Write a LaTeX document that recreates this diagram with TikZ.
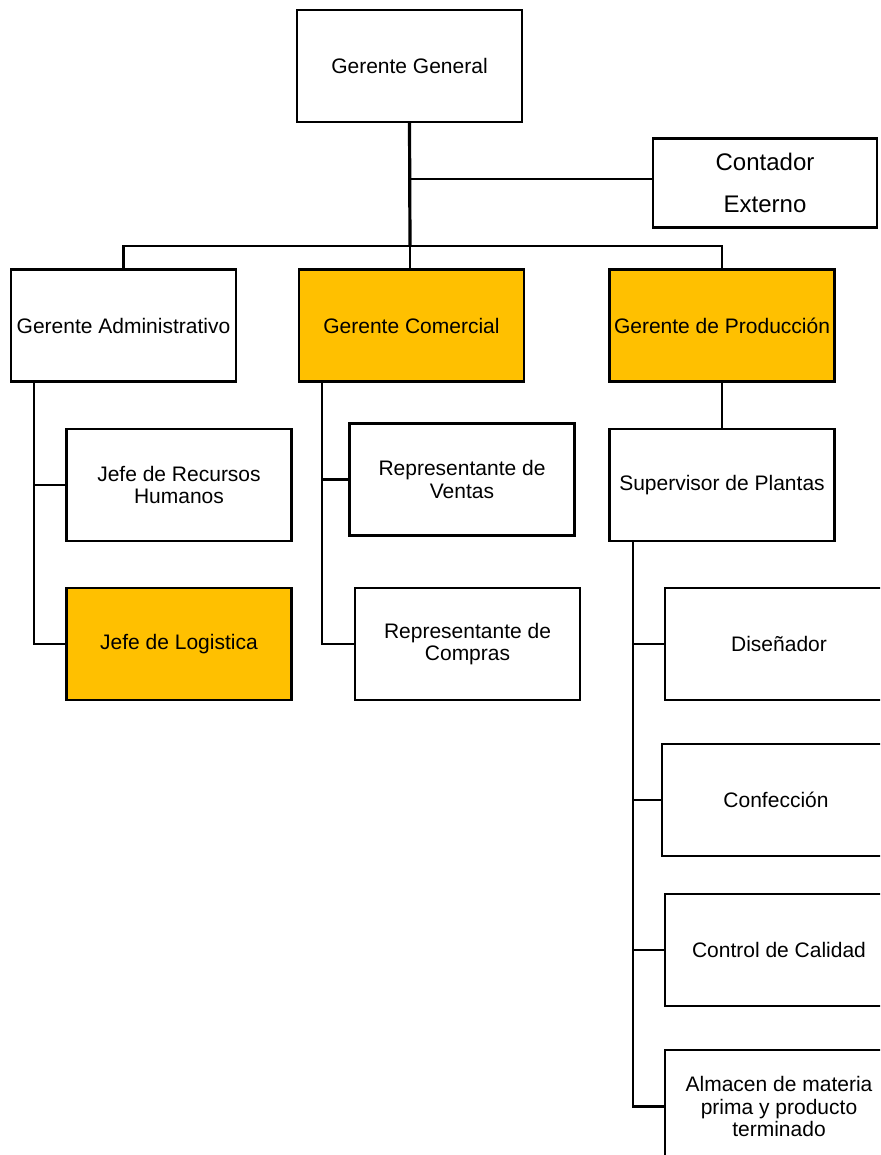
\documentclass[tikz,border=0pt]{standalone}
\usepackage{fontspec}
\setmainfont{Liberation Sans}

\begin{document}
\begin{tikzpicture}[
  x=1pt, y=-1pt,
  box/.style={draw, line width=2.4pt, fill=white, minimum width=225pt, minimum height=112pt,
    align=center, inner sep=0pt, font=\fontsize{21}{22.5}\selectfont},
  hbox/.style={box, fill=orgfill},
  link/.style={line width=2.4pt},
]
\definecolor{orgfill}{HTML}{FFC000}
\clip (0,0) rectangle (880,1155);

\node [box] (gg) at (409.5,66) {Gerente General};
\node [box, minimum width=224pt, minimum height=89pt, font=\fontsize{24}{42}\selectfont] (ce) at (765,183) {Contador\\Externo};

\node [box] (ga) at (123.5,325.5) {Gerente Administrativo};
\node [hbox] (gc) at (411.5,325.5) {Gerente Comercial};
\node [hbox] (gp) at (722,325.5) {Gerente de Producci\'on};

\node [box] (rrhh) at (179,485) {Jefe de Recursos\\Humanos};
\node [hbox] (log) at (179,644) {Jefe de Logistica};

\node [box] (rv) at (462,479.5) {Representante de\\Ventas};
\node [box] (rc) at (467.5,644) {Representante de\\Compras};

\node [box] (sp) at (722,485) {Supervisor de Plantas};
\node [box, minimum width=228pt] (dis) at (779,644) {Diseñador};
\node [box, minimum width=228pt] (con) at (776,800) {Confección};
\node [box, minimum width=228pt] (cal) at (779,950) {Control de Calidad};
\node [box, minimum width=228pt, minimum height=113pt] (alm) at (779,1106.5) {Almacen de materia\\prima y producto\\terminado};

\coordinate (bar) at (410,246);
\coordinate (ta) at (34,382);
\coordinate (tc) at (322,382);
\coordinate (tp) at (633,541);

\draw [link, line width=3.2pt] (gg.south) -- (bar);
\draw [line width=1.2pt] (bar |- ce.west) ++(0,-4) -- ([yshift=4pt]ce.west);
\draw [link] (ga.north) |- (bar) -| (gp.north);
\draw [link, line width=2pt] (bar) -- (bar |- gc.north);

\draw [link] (ta) |- (log.west);
\draw [link] (ta |- rrhh.west) -- (rrhh.west);

\draw [link] (tc) |- (rc.west);
\draw [link] (tc |- rv.west) -- (rv.west);

\draw [link] (gp.south) -- (sp.north);
\draw [link] (tp) |- (alm.west);
\draw [link] (tp |- dis.west) -- (dis.west);
\draw [link] (tp |- con.west) -- (con.west);
\draw [link] (tp |- cal.west) -- (cal.west);

\end{tikzpicture}
\end{document}
